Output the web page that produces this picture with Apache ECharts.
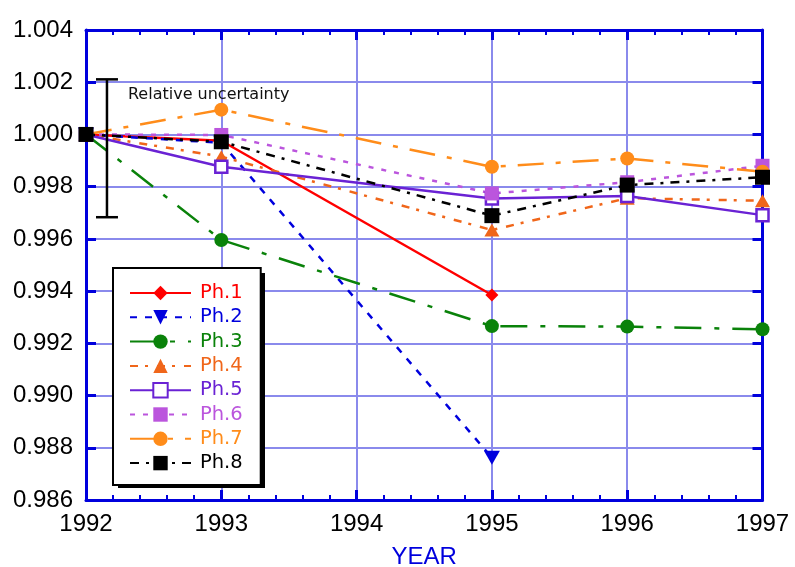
<!DOCTYPE html>
<html><head><meta charset="utf-8">
<script src="https://cdn.jsdelivr.net/npm/echarts@6/dist/echarts.min.js"></script>
<style>html,body{margin:0;padding:0;background:#fff}#c{width:795px;height:567px}</style>
</head><body><div id="c"></div>
<script>
const years = [1992, 1993, 1995, 1996, 1997];
const yTicks = ['0.986','0.988','0.990','0.992','0.994','0.996','0.998','1.000','1.002','1.004'];
const ph1 = [1.0000, 0.99976, 0.99385, null, null];
const ph2 = [1.0000, 0.99968, 0.98762, null, null];
const ph3 = [1.0000, 0.99596, 0.99266, 0.99264, 0.99254];
const ph4 = [1.0000, 0.99915, 0.99634, 0.99756, 0.99746];
const ph5 = [1.0000, 0.99876, 0.99755, 0.99764, 0.99691];
const ph6 = [1.0000, 0.99998, 0.99774, 0.99817, 0.99880];
const ph7 = [1.0000, 1.00095, 0.99876, 0.99908, 0.99857];
const ph8 = [1.0000, 0.99972, 0.99689, 0.99806, 0.99836];
const uncertaintyX = 1992.155;
const uncertaintyRange = [0.99683, 1.00211];
const uncertaintyLabel = 'Relative uncertainty';

const chart = echarts.init(document.getElementById('c'), null, {renderer: 'canvas'});
const pairs = arr => years.map((y, i) => [y, arr[i]]).filter(p => p[1] !== null);

const defs = [
  {name:'Ph.1', data: ph1, color:'#ff0000', dash:'solid', symbol:'diamond', size:[13,13], fill:'#ff0000'},
  {name:'Ph.2', data: ph2, color:'#0000dd', dash:[7,8], symbol:'triangle', size:[16,14], fill:'#0000dd', rotate:180},
  {name:'Ph.3', data: ph3, color:'#0a820a', dash:[27,13,5,13], symbol:'circle', size:14, fill:'#0a820a'},
  {name:'Ph.4', data: ph4, color:'#f0661a', dash:[8,7,3,9], symbol:'triangle', size:[15,13], fill:'#f0661a'},
  {name:'Ph.5', data: ph5, color:'#6a22d4', dash:'solid', symbol:'rect', size:12, fill:'#ffffff'},
  {name:'Ph.6', data: ph6, color:'#bb55dd', dash:[5,8], symbol:'rect', size:14, fill:'#bb55dd'},
  {name:'Ph.7', data: ph7, color:'#ff8c1a', dash:[26,12,5,12], symbol:'circle', size:14, fill:'#ff8c1a'},
  {name:'Ph.8', data: ph8, color:'#000000', dash:[9,7,3,7], symbol:'rect', size:15, fill:'#000000'}
];

const series = defs.map(d => ({
  name: d.name, type: 'line', data: pairs(d.data),
  symbol: d.symbol, symbolSize: d.size, symbolRotate: d.rotate || 0,
  showAllSymbol: true, connectNulls: true, animation: false,
  lineStyle: {color: d.color, width: 2.5, type: d.dash},
  itemStyle: {color: d.fill, borderColor: d.color, borderWidth: d.fill === '#ffffff' ? 2.5 : 0, opacity: 1},
  emphasis: {disabled: true}
}));

series.push({
  type: 'custom', name: 'uncertainty', silent: true, animation: false, z: 5,
  data: [[uncertaintyX, uncertaintyRange[0], uncertaintyRange[1]]],
  renderItem: function (params, api) {
    const top = api.coord([api.value(0), api.value(2)]);
    const bot = api.coord([api.value(0), api.value(1)]);
    const hw = 11;
    const st = {stroke: '#000', lineWidth: 2.5};
    return {type: 'group', children: [
      {type: 'line', shape: {x1: top[0], y1: top[1], x2: bot[0], y2: bot[1]}, style: st},
      {type: 'line', shape: {x1: top[0]-hw, y1: top[1], x2: top[0]+hw, y2: top[1]}, style: st},
      {type: 'line', shape: {x1: bot[0]-hw, y1: bot[1], x2: bot[0]+hw, y2: bot[1]}, style: st},
      {type: 'text', x: top[0] + 21, y: top[1] + 15, style: {text: uncertaintyLabel, fill: '#111', font: '16px "DejaVu Sans"', verticalAlign: 'middle'}}
    ]};
  }
});

const axisBlue = '#0000dd';
const gridColor = '#8a8aec';
const xBase = {
  type: 'value', min: 1992, max: 1997, interval: 1,
  axisLine: {show: true, onZero: false, lineStyle: {color: axisBlue, width: 3}},
  axisTick: {show: true, inside: true, length: 10, lineStyle: {color: axisBlue, width: 3}},
  minorTick: {show: true, splitNumber: 5, length: 5, lineStyle: {color: axisBlue, width: 2}},
  splitLine: {show: false}
};
const yBase = {
  type: 'value', min: 0.986, max: 1.004, interval: 0.002,
  axisLine: {show: true, onZero: false, lineStyle: {color: axisBlue, width: 3}},
  axisTick: {show: true, inside: true, length: 10, lineStyle: {color: axisBlue, width: 3}},
  splitLine: {show: false}
};

chart.setOption({
  animation: false,
  backgroundColor: '#ffffff',
  grid: {left: 86, right: 32.5, top: 30, bottom: 67, containLabel: false, outerBoundsMode: 'none'},
  graphic: [{
    type: 'rect', z: 3, silent: true,
    shape: {x: 118, y: 273, width: 147, height: 215},
    style: {fill: '#000'}
  }],
  legend: {
    orient: 'vertical', left: 113, top: 268, z: 10,
    data: defs.map(d => ({name: d.name, textStyle: {color: d.color}})),
    itemWidth: 61, itemHeight: 18, itemGap: 4.3,
    padding: [15, 18, 12, 16],
    backgroundColor: '#ffffff', borderColor: '#000', borderWidth: 2,
    textStyle: {fontFamily: 'DejaVu Sans', fontSize: 19.5, lineHeight: 20, padding: [0,0,0,4]},
    selectedMode: false
  },
  xAxis: [
    Object.assign({}, xBase, {
      position: 'bottom',
      name: 'YEAR', nameLocation: 'middle', nameGap: 45,
      nameTextStyle: {color: axisBlue, fontFamily: 'Liberation Sans', fontSize: 24},
      splitLine: {show: true, lineStyle: {color: gridColor, width: 2}},
      axisLabel: {color: '#000', fontFamily: 'Liberation Sans', fontSize: 24, margin: 12, formatter: v => String(v)}
    }),
    Object.assign({}, xBase, {position: 'top', axisLabel: {show: false}})
  ],
  yAxis: [
    Object.assign({}, yBase, {
      position: 'left',
      splitLine: {show: true, lineStyle: {color: gridColor, width: 2}},
      axisLabel: {color: '#000', fontFamily: 'Liberation Sans', fontSize: 24, margin: 13,
        formatter: v => yTicks[Math.round((v - 0.986) / 0.002)]}
    }),
    Object.assign({}, yBase, {position: 'right', axisLabel: {show: false}})
  ],
  series: series
});
</script>
</body></html>
